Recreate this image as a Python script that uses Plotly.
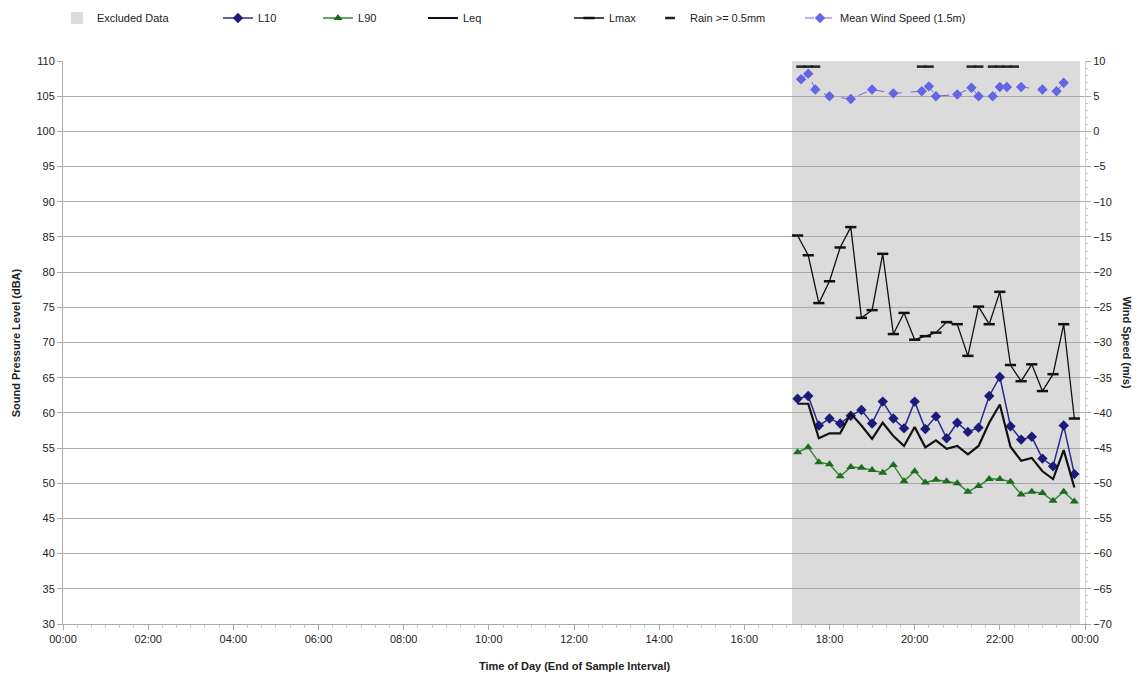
import plotly.graph_objects as go

DAY = "2024-01-01 "

# 15-minute noise samples (end of interval)
times = ["17:15", "17:30", "17:45", "18:00", "18:15", "18:30", "18:45", "19:00", "19:15",
         "19:30", "19:45", "20:00", "20:15", "20:30", "20:45", "21:00", "21:15", "21:30",
         "21:45", "22:00", "22:15", "22:30", "22:45", "23:00", "23:15", "23:30", "23:45"]
l10 = [62.0, 62.4, 58.2, 59.2, 58.5, 59.6, 60.4, 58.5, 61.6, 59.2, 57.8, 61.6, 57.7, 59.5,
       56.4, 58.6, 57.3, 57.9, 62.4, 65.1, 58.1, 56.2, 56.6, 53.5, 52.4, 58.2, 51.3]
l90 = [54.4, 55.1, 53.0, 52.7, 51.0, 52.3, 52.2, 51.9, 51.5, 52.6, 50.3, 51.7, 50.1, 50.5,
       50.3, 50.0, 48.8, 49.6, 50.6, 50.6, 50.2, 48.4, 48.8, 48.6, 47.5, 48.8, 47.4]
leq = [61.3, 61.3, 56.4, 57.1, 57.1, 59.9, 58.2, 56.3, 58.6, 56.7, 55.3, 58.0, 55.1, 56.1,
       54.9, 55.3, 54.1, 55.3, 58.6, 61.2, 55.2, 53.2, 53.6, 51.7, 50.6, 54.7, 49.4]
lmax = [85.2, 82.4, 75.6, 78.7, 83.5, 86.4, 73.5, 74.6, 82.6, 71.2, 74.2, 70.4, 70.9, 71.4,
        72.9, 72.6, 68.1, 75.1, 72.6, 77.2, 66.8, 64.5, 66.9, 63.1, 65.5, 72.6, 59.2]
excluded = [110] * len(times)

# 10-minute weather samples
wind_times = ["17:20", "17:30", "17:40", "18:00", "18:30", "19:00", "19:30", "20:10", "20:20",
              "20:30", "21:00", "21:20", "21:30", "21:50", "22:00", "22:10", "22:30", "23:00",
              "23:20", "23:30"]
wind = [7.4, 8.2, 5.95, 5.0, 4.6, 5.95, 5.4, 5.7, 6.4, 5.0, 5.25, 6.2, 5.0, 5.0, 6.3, 6.3,
        6.3, 5.95, 5.7, 6.9]
rain_times = ["17:20", "17:30", "17:40", "20:10", "20:20", "21:20", "21:30", "21:50", "22:00",
              "22:10", "22:20"]
rain = [9.2] * len(rain_times)

FONT = "Liberation Sans, Arial, sans-serif"
GRID = "#a9a9a9"

x = [DAY + t for t in times]
fig = go.Figure()
fig.add_trace(go.Bar(x=x, y=excluded, width=900000, name="Excluded Data", legend="legend",
                     marker=dict(color="rgba(170,170,170,0.42)", line=dict(width=0))))
fig.add_trace(go.Scatter(x=x, y=l10, name="L10", mode="lines+markers", legend="legend2",
                         line=dict(color="#2b2a8f", width=1.5),
                         marker=dict(symbol="diamond", size=8, color="#1c1a7a")))
fig.add_trace(go.Scatter(x=x, y=l90, name="L90", mode="lines+markers", legend="legend3",
                         line=dict(color="#2e8b2e", width=1.5),
                         marker=dict(symbol="triangle-up", size=8, color="#1f6b22")))
fig.add_trace(go.Scatter(x=x, y=leq, name="Leq", mode="lines", legend="legend4",
                         line=dict(color="#111111", width=2.2)))
fig.add_trace(go.Scatter(x=x, y=lmax, name="Lmax", mode="lines+markers", legend="legend5",
                         line=dict(color="#111111", width=1.3),
                         marker=dict(symbol="line-ew", size=8,
                                     line=dict(color="#111111", width=2.5))))
fig.add_trace(go.Scatter(x=[DAY + t for t in rain_times], y=rain, name="Rain >= 0.5mm",
                         mode="markers", yaxis="y2", legend="legend6",
                         marker=dict(symbol="line-ew", size=7,
                                     line=dict(color="#222222", width=2.5))))
fig.add_trace(go.Scatter(x=[DAY + t for t in wind_times], y=wind, name="Mean Wind Speed (1.5m)",
                         mode="lines+markers", yaxis="y2", legend="legend7",
                         line=dict(color="#6b6be0", width=1, dash="dash"),
                         marker=dict(symbol="diamond", size=8, color="#6464e6")))

# one legend box per entry so each sits where the original puts it
legend_x = [0.0501, 0.1917, 0.2797, 0.372, 0.5004, 0.5717, 0.7036]
legends = {}
for i, lx in enumerate(legend_x):
    key = "legend" if i == 0 else f"legend{i + 1}"
    legends[key] = dict(orientation="h", x=lx, xanchor="left", y=0.9734, yanchor="middle",
                        xref="container", yref="container", font=dict(size=11),
                        bgcolor="rgba(0,0,0,0)")

fig.update_layout(
    width=1137, height=677,
    margin=dict(l=63, r=52, t=61, b=53),
    paper_bgcolor="white", plot_bgcolor="white",
    font=dict(family=FONT, size=11, color="#222222"),
    bargap=0, showlegend=True,
    xaxis=dict(type="date", range=[DAY + "00:00", "2024-01-02 00:00"],
               dtick=7200000, tick0=DAY + "00:00", tickformat="%H:%M",
               showgrid=False, showline=True, linecolor=GRID, linewidth=1,
               ticks="outside", ticklen=5, tickcolor=GRID,
               minor=dict(dtick=1200000, ticks="outside", ticklen=3, tickcolor="#c8c8c8"),
               tickfont=dict(size=11), zeroline=False),
    yaxis=dict(range=[30, 110], dtick=5, showgrid=True, gridcolor=GRID, gridwidth=1,
               showline=True, linecolor=GRID, ticks="outside", ticklen=5, tickcolor=GRID,
               tickfont=dict(size=11), zeroline=False),
    yaxis2=dict(range=[-70, 10], dtick=5, overlaying="y", side="right", showgrid=False,
                showline=True, linecolor="#d0d0d0", ticks="outside", ticklen=5,
                tickcolor=GRID,
                minor=dict(dtick=1, ticks="outside", ticklen=2, tickcolor="#c8c8c8"),
                tickfont=dict(size=11), zeroline=False),
    annotations=[
        dict(text="<b>Sound Pressure Level (dBA)</b>", xref="paper", yref="paper",
             x=-0.054, y=0.5, textangle=-90, showarrow=False, font=dict(size=11)),
        dict(text="<b>Wind Speed (m/s)</b>", xref="paper", yref="paper",
             x=1.049, y=0.5, textangle=90, showarrow=False, font=dict(size=11)),
        dict(text="<b>Time of Day (End of Sample Interval)</b>", xref="paper", yref="paper",
             x=0.5, y=-0.074, yanchor="middle", showarrow=False, font=dict(size=11)),
    ],
    **legends,
)

fig.write_html("out.html", config={"displayModeBar": False},
               post_script="document.body.style.margin = '0';")
